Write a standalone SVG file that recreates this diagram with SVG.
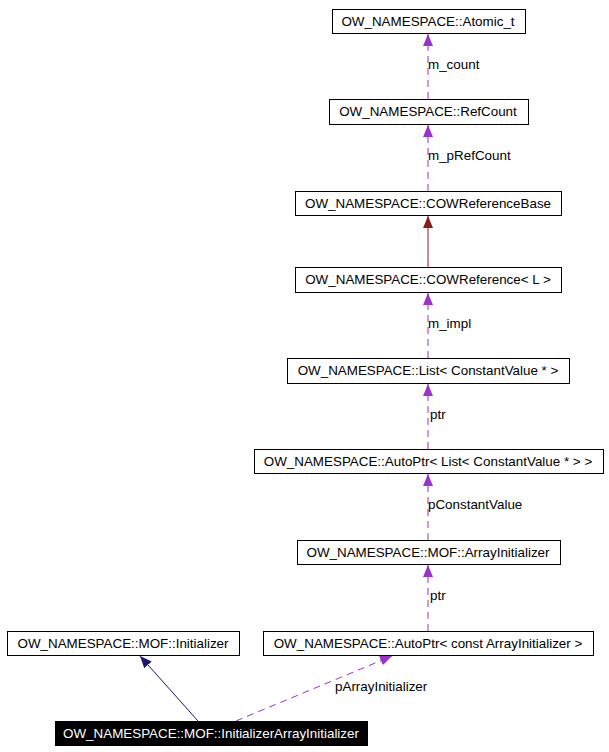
<svg xmlns="http://www.w3.org/2000/svg" width="609" height="752" viewBox="0 0 609 752">
<style>
.n rect{fill:#fff;stroke:#000;stroke-width:1}
text{font-family:"Liberation Sans",Arial,sans-serif;font-size:13.4px;fill:#000}
.n text{text-anchor:middle}
.d{stroke:#9a32cd;stroke-dasharray:7,5;fill:none}
</style>
<defs>
<marker id="p" viewBox="0 0 12 10" refX="12" refY="5" markerWidth="12" markerHeight="10" markerUnits="userSpaceOnUse" orient="auto"><path d="M0,0L12,5L0,10z" fill="#9a32cd"/></marker>
<marker id="r" viewBox="0 0 12 10" refX="12" refY="5" markerWidth="12" markerHeight="10" markerUnits="userSpaceOnUse" orient="auto"><path d="M0,0L12,5L0,10z" fill="#8b1a1a"/></marker>
<marker id="b" viewBox="0 0 12 10" refX="12" refY="5" markerWidth="12" markerHeight="10" markerUnits="userSpaceOnUse" orient="auto"><path d="M0,0L12,5L0,10z" fill="#191970"/></marker>
</defs>
<g id="edges">
<line class="d" x1="428" y1="99" x2="428" y2="34" marker-end="url(#p)"/><text x="428" y="69">m_count</text>
<line class="d" x1="428" y1="191" x2="428" y2="125" marker-end="url(#p)"/><text x="428" y="160">m_pRefCount</text>
<line x1="428" y1="267" x2="428" y2="216" stroke="#8b1a1a" marker-end="url(#r)"/>
<line class="d" x1="428" y1="358" x2="428" y2="293" marker-end="url(#p)"/><text x="428" y="328">m_impl</text>
<line class="d" x1="428" y1="449" x2="428" y2="384" marker-end="url(#p)"/><text x="430" y="419">ptr</text>
<line class="d" x1="428" y1="540" x2="428" y2="474" marker-end="url(#p)"/><text x="428" y="509">pConstantValue</text>
<line class="d" x1="428" y1="631" x2="428" y2="565" marker-end="url(#p)"/><text x="430" y="600">ptr</text>
<line x1="198" y1="721" x2="140" y2="656" stroke="#191970" marker-end="url(#b)"/>
<line class="d" x1="236" y1="721" x2="392" y2="656" stroke-dasharray="8,5,2,5" marker-end="url(#p)"/><text x="335" y="691">pArrayInitializer</text>
</g>
<g id="n1" class="n"><rect x="332.5" y="9.5" width="193" height="24"/><text x="428" y="26">OW_NAMESPACE::Atomic_t</text></g>
<g id="n2" class="n"><rect x="329.5" y="99.5" width="199" height="25"/><text x="428" y="116">OW_NAMESPACE::RefCount</text></g>
<g id="n3" class="n"><rect x="295.5" y="191.5" width="266" height="24"/><text x="428" y="208">OW_NAMESPACE::COWReferenceBase</text></g>
<g id="n4" class="n"><rect x="295.5" y="267.5" width="266" height="25"/><text x="428" y="284">OW_NAMESPACE::COWReference&lt; L &gt;</text></g>
<g id="n5" class="n"><rect x="287.5" y="358.5" width="282" height="25"/><text x="428" y="375">OW_NAMESPACE::List&lt; ConstantValue * &gt;</text></g>
<g id="n6" class="n"><rect x="254.5" y="449.5" width="349" height="24"/><text x="428" y="466">OW_NAMESPACE::AutoPtr&lt; List&lt; ConstantValue * &gt; &gt;</text></g>
<g id="n7" class="n"><rect x="297.5" y="540.5" width="263" height="24"/><text x="428" y="557">OW_NAMESPACE::MOF::ArrayInitializer</text></g>
<g id="n8" class="n"><rect x="7.5" y="631.5" width="232" height="24"/><text x="123" y="648">OW_NAMESPACE::MOF::Initializer</text></g>
<g id="n9" class="n"><rect x="263.5" y="631.5" width="330" height="24"/><text x="428" y="648">OW_NAMESPACE::AutoPtr&lt; const ArrayInitializer &gt;</text></g>
<g id="n10" class="n"><rect x="55.5" y="721.5" width="312" height="24" style="fill:#000"/><text x="211" y="738" style="fill:#fff">OW_NAMESPACE::MOF::InitializerArrayInitializer</text></g>
</svg>
